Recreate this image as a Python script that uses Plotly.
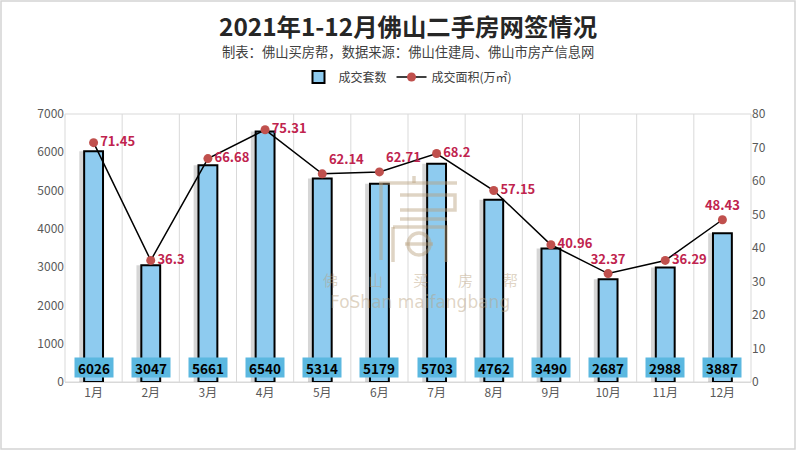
import plotly.graph_objects as go

months = ["1月", "2月", "3月", "4月", "5月", "6月", "7月", "8月", "9月", "10月", "11月", "12月"]
units = [6026, 3047, 5661, 6540, 5314, 5179, 5703, 4762, 3490, 2687, 2988, 3887]
area = [71.45, 36.3, 66.68, 75.31, 62.14, 62.71, 68.2, 57.15, 40.96, 32.37, 36.29, 48.43]
label_pos = ["middle right", "middle right", "middle right", "middle right", "top right", "top right",
             "middle right", "middle right", "middle right", "top center", "middle right", "top center"]

FONT = "Noto Sans CJK SC"
W, H = 796, 450
L, R, T, B = 65, 45, 114, 68
PW, PH = W - L - R, H - T - B


def px(x):
    return (x - L) / PW


def py(y):
    return (H - B - y) / PH


fig = go.Figure()

# soft shadow behind bars
fig.add_trace(go.Bar(
    x=months, y=units, width=0.40, offset=-0.25, showlegend=False, hoverinfo="skip",
    marker=dict(color="rgba(0,0,0,0.16)", line=dict(width=0)),
))
fig.add_trace(go.Bar(
    x=months, y=units, name="成交套数", width=0.33, offset=-0.165,
    marker=dict(color="#8ecbef", line=dict(color="black", width=2)),
    yaxis="y", hoverinfo="y",
))
fig.add_trace(go.Scatter(
    x=months, y=area, name="成交面积(万㎡)", yaxis="y2",
    mode="lines+markers+text",
    line=dict(color="black", width=1.5),
    marker=dict(color="#c0504d", size=9),
    text=[str(v) for v in area], textposition=label_pos,
    textfont=dict(color="#c0234e", size=13, family=FONT, weight="bold"),
    cliponaxis=False,
))

annotations = []
for m, u in zip(months, units):
    annotations.append(dict(
        x=m, y=py(367.5), xref="x", yref="paper", yanchor="middle", text=f"<b>{u}</b>", showarrow=False,
        font=dict(color="black", size=13.5, family=FONT), bgcolor="#5bb8e0",
        width=34, height=15, borderpad=2,
    ))
WM = "rgba(185,160,125,0.45)"
annotations += [
    dict(x=0.5, y=py(26), xref="paper", yref="paper", yanchor="middle", text="<b>2021年1-12月佛山二手房网签情况</b>",
         showarrow=False, font=dict(size=24.4, color="#262626", family=FONT)),
    dict(x=0.5, y=py(51), xref="paper", yref="paper", yanchor="middle",
         text="制表：佛山买房帮，数据来源：佛山住建局、佛山市房产信息网",
         showarrow=False, font=dict(size=13.3, color="#404040", family=FONT)),
    dict(x=px(420), y=py(279), xref="paper", yref="paper", yanchor="middle", text="佛　　山　　买　　房　　帮",
         showarrow=False, font=dict(size=15, color=WM, family=FONT)),
    dict(x=px(420), y=py(302), xref="paper", yref="paper", yanchor="middle", text="FoShan maifangbang",
         showarrow=False, font=dict(size=17, color=WM, family="DejaVu Sans")),
]

shapes = []
for i in range(1, 12):
    shapes.append(dict(type="line", xref="x", yref="paper", x0=i - 0.5, x1=i - 0.5, y0=0, y1=1,
                       line=dict(color="#d9d9d9", width=1), layer="below"))
shapes.append(dict(type="rect", xref="paper", yref="paper", x0=0, x1=1, y0=0, y1=1,
                   line=dict(color="#d9d9d9", width=1), layer="below"))
shapes.append(dict(type="rect", xref="paper", yref="paper", x0=px(1), x1=px(795), y0=py(449), y1=py(1),
                   line=dict(color="#d4d4d4", width=1.5), layer="below"))

# watermark logo (rough)
logo_lines = [
    [(379, 183), (457, 183)],
    [(414, 176), (414, 183)],
    [(381, 183), (381, 260)],
    [(400, 195), (455, 195), (455, 210), (400, 210)],
    [(400, 219), (447, 219)],
    [(393, 227), (446, 227), (446, 262)],
    [(393, 227), (393, 262)],
    [(405, 244), (433, 244)],
]
for seg in logo_lines:
    path = "M " + " L ".join(f"{px(a):.5f},{py(b):.5f}" for a, b in seg)
    shapes.append(dict(type="path", xref="paper", yref="paper", path=path,
                       line=dict(color=WM, width=3.5)))
shapes.append(dict(type="circle", xref="paper", yref="paper", x0=px(408), x1=px(430), y0=py(255), y1=py(233),
                   line=dict(color=WM, width=3.5)))

fig.update_layout(
    width=W, height=H,
    margin=dict(l=L, r=R, t=T, b=B, autoexpand=False),
    paper_bgcolor="white", plot_bgcolor="white",
    font=dict(family=FONT, color="#595959", size=12),
    barmode="overlay",
    xaxis=dict(showgrid=False, ticks="", tickfont=dict(size=12, color="#595959"),
               range=[-0.5, len(months) - 0.5],
               showline=True, linecolor="#d9d9d9", linewidth=1, automargin=False),
    yaxis=dict(range=[0, 7000], dtick=1000, showgrid=False, zeroline=False, automargin=False,
               tickfont=dict(size=12, color="#595959")),
    yaxis2=dict(range=[0, 80], dtick=10, overlaying="y", side="right", showgrid=False, automargin=False,
                zeroline=False, tickfont=dict(size=12, color="#595959")),
    legend=dict(orientation="h", x=0.5, xanchor="center", y=1 - 77 / H, yanchor="middle",
                yref="container", font=dict(size=12, color="#404040")),
    annotations=annotations, shapes=shapes, showlegend=True,
)

fig.write_html("out.html", config={"displayModeBar": False},
               post_script="document.body.style.margin='0';")
